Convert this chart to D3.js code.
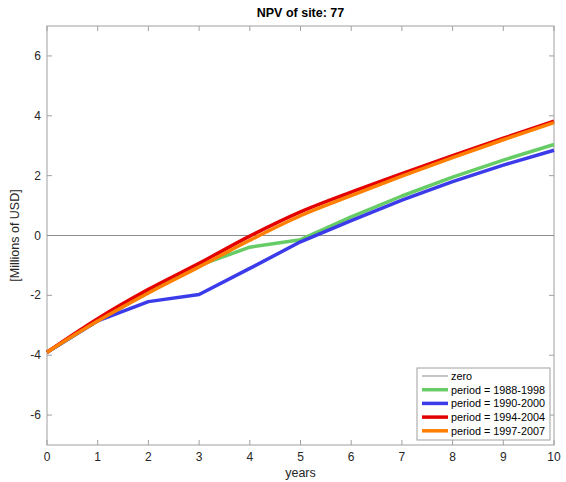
<!DOCTYPE html>
<html>
<head>
<meta charset="utf-8">
<script src="https://cdn.jsdelivr.net/npm/d3@7"></script>
<style>
  html, body { margin: 0; padding: 0; background: #fff; }
  svg { display: block; font-family: "Liberation Sans", Arial, sans-serif; }
</style>
</head>
<body>
<script>
'use strict';

const years = [0, 1, 2, 3, 4, 5, 6, 7, 8, 9, 10];
const xTicks = [0, 1, 2, 3, 4, 5, 6, 7, 8, 9, 10];
const yTicks = [-6, -4, -2, 0, 2, 4, 6];

const seriesNames = ['period = 1988-1998', 'period = 1990-2000', 'period = 1994-2004', 'period = 1997-2007'];
const npv1988 = [-3.9, -2.85, -1.9, -1.0, -0.39, -0.14, 0.62, 1.32, 1.95, 2.52, 3.04];
const npv1990 = [-3.9, -2.85, -2.21, -1.97, -1.1, -0.21, 0.5, 1.18, 1.8, 2.35, 2.85];
const npv1994 = [-3.9, -2.78, -1.8, -0.93, -0.02, 0.79, 1.45, 2.07, 2.67, 3.25, 3.82];
const npv1997 = [-3.9, -2.86, -1.92, -1.05, -0.16, 0.66, 1.33, 1.98, 2.6, 3.2, 3.77];
const seriesValues = [npv1988, npv1990, npv1994, npv1997];

const colors = ['#66cc66', '#3b3bea', '#e50000', '#ff8000'];
// the later periods have no kinks, so they get drawn as smooth curves
const smooth = [false, false, true, true];

const width = 566, height = 482;
const margin = { left: 47, right: 12, top: 26, bottom: 37 };
const innerW = width - margin.left - margin.right;
const innerH = height - margin.top - margin.bottom;

const svg = d3.select('body').append('svg')
  .attr('width', width)
  .attr('height', height);

const x = d3.scaleLinear().domain([0, 10]).range([margin.left, margin.left + innerW]);
const y = d3.scaleLinear().domain([-7, 7]).range([margin.top + innerH, margin.top]);

const axisColor = '#262626';
const boxColor = '#a0a0a0';
const tickLen = 5;

// box
svg.append('rect')
  .attr('x', x(0)).attr('y', y(7))
  .attr('width', x(10) - x(0)).attr('height', y(-7) - y(7))
  .attr('fill', 'none').attr('stroke', boxColor).attr('stroke-width', 1);

// ticks inside, all four sides
const tk = svg.append('g').attr('stroke', boxColor).attr('stroke-width', 1);
xTicks.forEach((t) => {
  tk.append('line').attr('x1', x(t)).attr('x2', x(t)).attr('y1', y(-7)).attr('y2', y(-7) - tickLen);
  tk.append('line').attr('x1', x(t)).attr('x2', x(t)).attr('y1', y(7)).attr('y2', y(7) + tickLen);
});
yTicks.forEach((t) => {
  tk.append('line').attr('x1', x(0)).attr('x2', x(0) + tickLen).attr('y1', y(t)).attr('y2', y(t));
  tk.append('line').attr('x1', x(10)).attr('x2', x(10) - tickLen).attr('y1', y(t)).attr('y2', y(t));
});

// tick labels
svg.append('g').selectAll('text').data(xTicks).join('text')
  .attr('x', (d) => x(d)).attr('y', y(-7) + 16)
  .attr('text-anchor', 'middle').attr('font-size', 12).attr('fill', axisColor)
  .text((d) => d);
svg.append('g').selectAll('text').data(yTicks).join('text')
  .attr('x', x(0) - 6).attr('y', (d) => y(d) + 4)
  .attr('text-anchor', 'end').attr('font-size', 12).attr('fill', axisColor)
  .text((d) => d);

// zero line
svg.append('line')
  .attr('x1', x(0)).attr('x2', x(10)).attr('y1', y(0)).attr('y2', y(0))
  .attr('stroke', '#8c8c8c').attr('stroke-width', 1);

// series
seriesValues.forEach((vals, i) => {
  const line = d3.line()
    .x((d, j) => x(years[j]))
    .y((d) => y(d))
    .curve(smooth[i] ? d3.curveMonotoneX : d3.curveLinear);
  svg.append('path')
    .attr('d', line(vals))
    .attr('fill', 'none')
    .attr('stroke', colors[i])
    .attr('stroke-width', 3.5)
    .attr('stroke-linejoin', 'round');
});

// title & labels
svg.append('text')
  .attr('x', (x(0) + x(10)) / 2).attr('y', 17)
  .attr('text-anchor', 'middle').attr('font-size', 12.5).attr('font-weight', 'bold').attr('fill', '#000')
  .text('NPV of site: 77');
svg.append('text')
  .attr('x', (x(0) + x(10)) / 2).attr('y', 477)
  .attr('text-anchor', 'middle').attr('font-size', 12.5).attr('fill', axisColor)
  .text('years');
svg.append('text')
  .attr('transform', 'translate(19,' + y(0) + ') rotate(-90)')
  .attr('text-anchor', 'middle').attr('font-size', 12.5).attr('fill', axisColor)
  .text('[Millions of USD]');

// legend
const lg = svg.append('g').attr('transform', 'translate(417,368)');
lg.append('rect')
  .attr('width', 133).attr('height', 72)
  .attr('fill', '#fff').attr('stroke', boxColor).attr('stroke-width', 1);
const legendNames = ['zero'].concat(seriesNames);
const legendColors = ['#8c8c8c'].concat(colors);
legendNames.forEach((name, i) => {
  const ly = 8 + i * 13.7;
  lg.append('line')
    .attr('x1', 5).attr('x2', 31).attr('y1', ly).attr('y2', ly)
    .attr('stroke', legendColors[i]).attr('stroke-width', i === 0 ? 1 : 3.5);
  lg.append('text')
    .attr('x', 34).attr('y', ly + 3.8)
    .attr('font-size', 10.8).attr('fill', '#000')
    .text(name);
});
</script>
</body>
</html>
